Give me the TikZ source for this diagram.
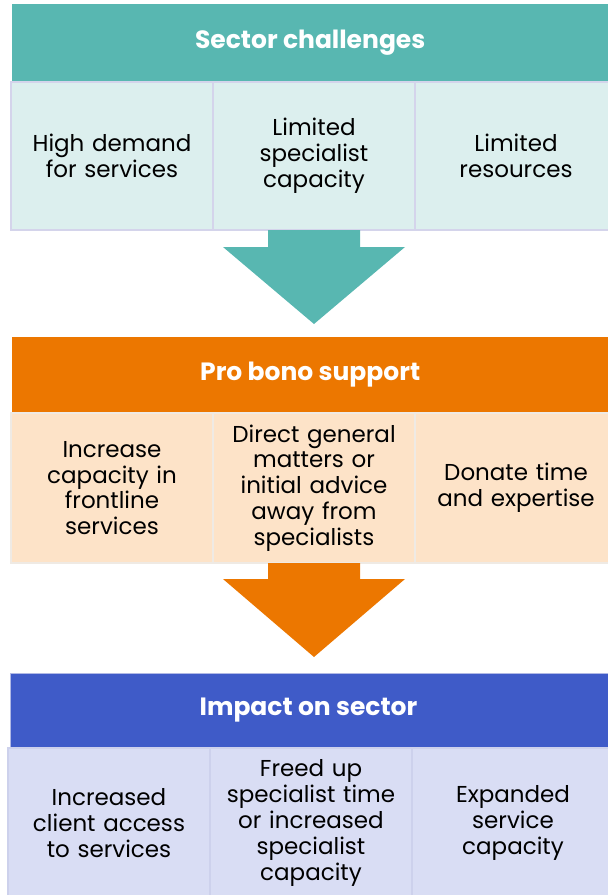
\documentclass[tikz,border=0pt]{standalone}
\usepackage{fontspec}
\setmainfont{Poppins}
\definecolor{tealH}{HTML}{58B7B1}
\definecolor{tealL}{HTML}{DCEFEE}
\definecolor{tealB}{HTML}{D4D4EB}
\definecolor{oranH}{HTML}{EC7700}
\definecolor{oranL}{HTML}{FDE3C8}
\definecolor{oranB}{HTML}{EFEAE4}
\definecolor{blueH}{HTML}{3F5BC8}
\definecolor{blueL}{HTML}{D9DDF4}
\definecolor{blueB}{HTML}{CDD1EC}
\begin{document}
\begin{tikzpicture}[x=1pt,y=-1pt,
  hdr/.style={rectangle, anchor=north west, inner sep=0pt, minimum width=600pt, minimum height=#1,
    font=\fontsize{25}{29}\selectfont\bfseries, text=white},
  cell/.style={rectangle, anchor=north west, inner sep=0pt, minimum width=202pt, minimum height=#1,
    line width=2pt, align=center, text width=196pt,
    font=\fontsize{23}{25.8}\selectfont, text=black}]
\useasboundingbox (0,0) rectangle (608,895);
\clip (0,0) rectangle (608,895);

% Section 1
\node[hdr=77pt, fill=tealH] (h1) at (12,4) {\hspace*{-4pt}Sector challenges};
\node[cell=148pt, fill=tealL, draw=tealB] (c11) at (10,81) {High demand\\for services};
\node[cell=148pt, fill=tealL, draw=tealB] (c12) at (212,81) {Limited\\specialist\\capacity};
\node[cell=148pt, fill=tealL, draw=tealB] (c13) at (414,81) {Limited\\resources};

% Arrow 1
\fill[tealH] (268,230) -- (360,230) -- (360,247) -- (405,247) -- (314,324) -- (223,247) -- (268,247) -- cycle;

% Section 2
\node[hdr=75pt, fill=oranH] (h2) at (12,337) {\hspace*{-4pt}Pro bono support};
\node[cell=150pt, fill=oranL, draw=oranB] (c21) at (10,412) {Increase\\capacity in\\frontline\\services};
\node[cell=150pt, fill=oranL, draw=oranB] (c22) at (212,412) {Direct general\\matters or\\initial advice\\away from\\specialists};
\node[cell=150pt, fill=oranL, draw=oranB] (c23) at (414,412) {Donate time\\and expertise};

% Arrow 2
\fill[oranH] (268,563) -- (360,563) -- (360,579) -- (405,579) -- (314,657) -- (223,579) -- (268,579) -- cycle;

% Section 3
\node[hdr=74pt, fill=blueH, draw=blueB!80!blueH, line width=1pt] (h3) at (10,673) {\hspace*{-4pt}Impact on sector};
\node[cell=150pt, fill=blueL, draw=blueB] (c31) at (7,747) {Increased\\client access\\to services};
\node[cell=150pt, fill=blueL, draw=blueB] (c32) at (209,747) {Freed up\\specialist time\\or increased\\specialist\\capacity};
\node[cell=150pt, fill=blueL, draw=blueB] (c33) at (411,747) {Expanded\\service\\capacity};
\end{tikzpicture}
\end{document}
